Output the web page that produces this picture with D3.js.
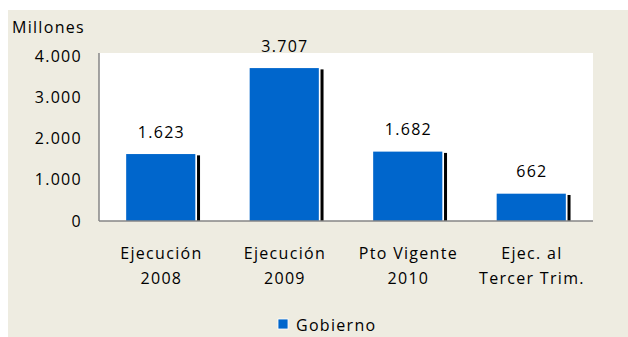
<!DOCTYPE html>
<html>
<head>
<meta charset="utf-8">
<script src="https://cdn.jsdelivr.net/npm/d3@7/dist/d3.min.js"></script>
<style>
  html, body { margin: 0; padding: 0; background: #ffffff; }
  svg { display: block; }
  text { font-family: "Open Sans", sans-serif; fill: #000; }
</style>
</head>
<body>
<svg id="chart" width="628" height="337"></svg>
<script>
// Gasto del Gobierno, millones
const categories = [
  ["Ejecución", "2008"],
  ["Ejecución", "2009"],
  ["Pto Vigente", "2010"],
  ["Ejec. al", "Tercer Trim."]
];
const values = [1623, 3707, 1682, 662];
const yTicks = [0, 1000, 2000, 3000, 4000];
const seriesName = "Gobierno";
const unitLabel = "Millones";

const W = 628, H = 337;
const plot = { left: 99, right: 593, top: 53, bottom: 221 };
const FONT = "'Open Sans', sans-serif";
const FS = 16, LS = 1.3;

const es = d3.formatLocale({ decimal: ",", thousands: ".", grouping: [3], currency: ["$", ""] });
const fmt = es.format(",d");

const svg = d3.select("#chart");

// chart background
svg.append("rect").attr("x", 8).attr("y", 10).attr("width", W - 8).attr("height", H - 10)
  .attr("fill", "#eeece1");

// plot area
svg.append("rect")
  .attr("x", plot.left).attr("y", plot.top)
  .attr("width", plot.right - plot.left).attr("height", plot.bottom - plot.top)
  .attr("fill", "#ffffff");

const x = d3.scaleBand()
  .domain(d3.range(categories.length))
  .range([plot.left, plot.right])
  .paddingInner(0.44).paddingOuter(0.22);

const y = d3.scaleLinear().domain([0, 4000]).range([plot.bottom, 56]);

// bars with a thin drop shadow on the right
const g = svg.append("g");
g.selectAll("rect.shadow").data(values).join("rect")
  .attr("class", "shadow")
  .attr("x", (d, i) => x(i) + x.bandwidth() + 1.7)
  .attr("y", d => y(d) + 1.3)
  .attr("width", 3)
  .attr("height", d => plot.bottom - y(d) - 1.3)
  .attr("fill", "#000");

g.selectAll("rect.bar").data(values).join("rect")
  .attr("class", "bar")
  .attr("x", (d, i) => x(i))
  .attr("y", d => y(d))
  .attr("width", x.bandwidth())
  .attr("height", d => plot.bottom - y(d))
  .attr("fill", "#0066cc");

// value labels
g.selectAll("text.val").data(values).join("text")
  .attr("class", "val")
  .attr("x", (d, i) => x(i) + x.bandwidth() / 2 + LS / 2)
  .attr("y", d => y(d) - 22)
  .attr("dy", "0.35em")
  .attr("text-anchor", "middle")
  .attr("font-size", FS)
  .attr("letter-spacing", LS)
  .text(d => fmt(d));

// axes
const yAxis = d3.axisLeft(y).tickValues(yTicks).tickSize(0).tickPadding(17).tickFormat(fmt);
const ya = svg.append("g").attr("transform", `translate(${plot.left},0)`).call(yAxis);
ya.select(".domain").attr("stroke", "#868686").attr("stroke-width", 1.5)
  .attr("d", `M0,${plot.top}V${plot.bottom}`);
ya.selectAll("text").attr("font-size", FS).attr("letter-spacing", LS)
  .style("font-family", FONT).attr("fill", "#000");

const xAxis = d3.axisBottom(x).tickSize(0).tickFormat(() => "");
const xa = svg.append("g").attr("transform", `translate(0,${plot.bottom})`).call(xAxis);
xa.select(".domain").attr("stroke", "#868686").attr("stroke-width", 1.5)
  .attr("d", `M${plot.left},0H${plot.right}`);
xa.selectAll(".tick").each(function(i) {
  const t = d3.select(this).select("text")
    .attr("y", 0).attr("dy", null)
    .attr("font-size", FS).attr("letter-spacing", LS)
    .style("font-family", FONT).attr("fill", "#000");
  t.selectAll("tspan").data(categories[i]).join("tspan")
    .attr("x", LS / 2)
    .attr("y", (d, k) => 38 + k * 25)
    .text(d => d);
});

// unit label
svg.append("text").attr("x", 12).attr("y", 27).attr("dy", "0.35em")
  .attr("font-size", FS).attr("letter-spacing", LS).text(unitLabel);

// legend
const lg = svg.append("g").attr("transform", "translate(278,319)");
lg.append("rect").attr("width", 10).attr("height", 10).attr("fill", "#0066cc")
  .attr("stroke", "#ffffff").attr("stroke-width", 0.8);
lg.append("text").attr("x", 18).attr("y", 6).attr("dy", "0.35em")
  .attr("font-size", FS).attr("letter-spacing", LS).text(seriesName);
</script>
</body>
</html>
